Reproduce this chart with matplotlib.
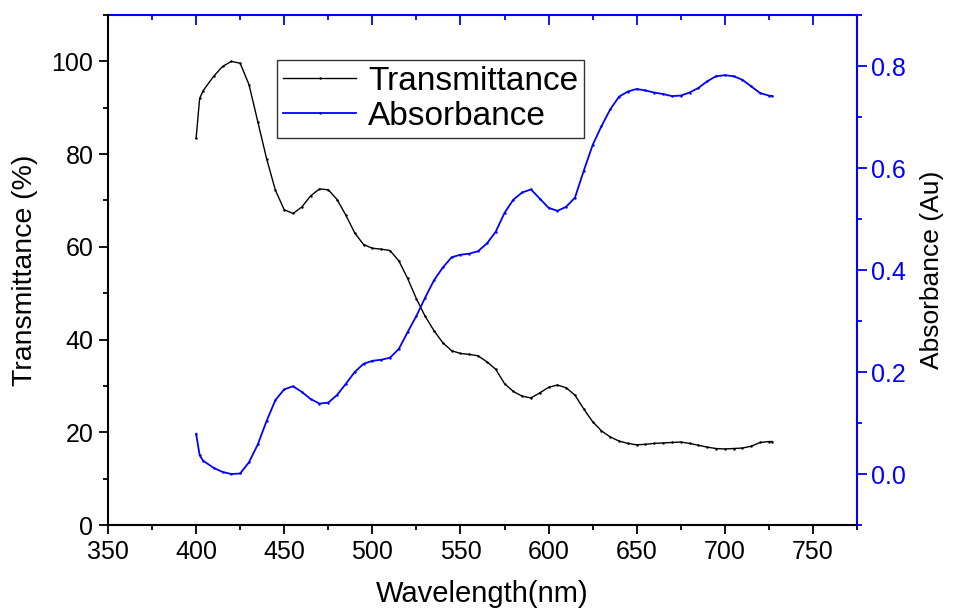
import matplotlib.pyplot as plt
from matplotlib.ticker import MultipleLocator

plt.rcParams['font.family'] = ['Liberation Sans', 'DejaVu Sans']

# wavelengths (nm)
wavelength = [400, 402, 404, 410, 415, 420, 425, 430, 435, 440, 445, 450, 455,
              460, 465, 470, 475, 480, 485, 490, 495, 500, 505, 510, 515, 520,
              525, 530, 535, 540, 545, 550, 555, 560, 565, 570, 575, 580, 585,
              590, 595, 600, 605, 610, 615, 620, 625, 630, 635, 640, 645, 650,
              655, 660, 665, 670, 675, 680, 685, 690, 695, 700, 705, 710, 715,
              720, 725, 727]

# transmittance (%)
transmittance = [83.4, 92.0, 93.7, 96.8, 98.9, 100.0, 99.6, 95.0, 87.0, 79.0,
                 72.2, 68.0, 67.2, 68.6, 71.0, 72.5, 72.3, 70.2, 66.8, 63.0,
                 60.5, 59.7, 59.5, 59.2, 57.0, 53.2, 48.8, 45.0, 41.9, 39.3,
                 37.6, 37.0, 36.8, 36.5, 35.2, 33.6, 30.5, 28.8, 27.8, 27.4,
                 28.5, 29.7, 30.2, 29.6, 28.0, 25.0, 22.3, 20.3, 19.0, 18.1,
                 17.6, 17.3, 17.4, 17.6, 17.7, 17.8, 17.9, 17.6, 17.2, 16.8,
                 16.5, 16.4, 16.5, 16.6, 17.0, 17.8, 18.0, 18.0]

# absorbance (Au)
absorbance = [0.079, 0.037, 0.026, 0.012, 0.004, 0.000, 0.001, 0.023, 0.058,
              0.104, 0.145, 0.166, 0.172, 0.161, 0.147, 0.138, 0.140, 0.155,
              0.177, 0.200, 0.216, 0.222, 0.224, 0.228, 0.245, 0.278, 0.310,
              0.346, 0.380, 0.405, 0.425, 0.430, 0.432, 0.437, 0.452, 0.475,
              0.512, 0.538, 0.552, 0.558, 0.540, 0.522, 0.516, 0.524, 0.542,
              0.595, 0.645, 0.682, 0.715, 0.740, 0.750, 0.755, 0.752, 0.748,
              0.745, 0.741, 0.742, 0.748, 0.757, 0.770, 0.780, 0.782, 0.780,
              0.773, 0.760, 0.747, 0.742, 0.741]

blue = '#0000ff'

fig = plt.figure(figsize=(9.54, 6.08), dpi=100)
ax = fig.add_axes([0.1132, 0.1365, 0.7851, 0.8388])
ax2 = ax.twinx()

l1, = ax.plot(wavelength, transmittance, color='black', lw=1.0,
              marker='.', markersize=1.5, label='Transmittance')
l2, = ax2.plot(wavelength, absorbance, color=blue, lw=1.3,
               marker='.', markersize=1.5, label='Absorbance')

ax.set_xlim(350, 775)
ax.set_ylim(0, 110)
ax2.set_ylim(-0.1, 0.9)

ax.xaxis.set_major_locator(MultipleLocator(50))
ax.xaxis.set_minor_locator(MultipleLocator(25))
ax.yaxis.set_major_locator(MultipleLocator(20))
ax.yaxis.set_minor_locator(MultipleLocator(10))
ax2.yaxis.set_major_locator(MultipleLocator(0.2))
ax2.yaxis.set_minor_locator(MultipleLocator(0.1))
ax2.yaxis.set_major_formatter(lambda v, p: f'{v:.1f}')

# spines
for a in (ax, ax2):
    for s in a.spines.values():
        s.set_linewidth(1.5)
ax.spines['top'].set_visible(False)
ax.spines['right'].set_visible(False)
ax2.spines['left'].set_visible(False)
ax2.spines['bottom'].set_visible(False)
ax2.spines['right'].set_color(blue)
ax2.spines['top'].set_visible(False)

ax.tick_params(axis='both', which='major', direction='out', length=6.5,
               width=1.3, labelsize=18, pad=4)
ax.tick_params(axis='both', which='minor', direction='out', length=3.6,
               width=1.3)
ax2.tick_params(axis='y', which='major', direction='out', length=7,
                width=1.3, colors=blue, labelsize=18, pad=3)
ax2.tick_params(axis='y', which='minor', direction='out', length=3.6,
                width=1.3, colors=blue)

# top axis: blue, inward ticks, no labels
top = ax.secondary_xaxis('top')
top.xaxis.set_major_locator(MultipleLocator(50))
top.xaxis.set_minor_locator(MultipleLocator(25))
top.spines['top'].set_color(blue)
top.spines['top'].set_linewidth(1.5)
top.tick_params(axis='x', which='major', direction='in', length=7,
                width=1.3, colors=blue, labeltop=False)
top.tick_params(axis='x', which='minor', direction='in', length=3.6,
                width=1.3, colors=blue)

ax.set_xlabel('Wavelength(nm)', fontsize=21, labelpad=12)
ax.set_ylabel('Transmittance (%)', fontsize=20.5, labelpad=10)
ax2.set_ylabel('Absorbance (Au)', fontsize=19, color='black', labelpad=10)

leg = ax.legend(handles=[l1, l2], loc='upper left',
                bbox_to_anchor=(0.2904, 0.9013),
                bbox_transform=fig.transFigure, borderaxespad=0,
                fontsize=24, fancybox=False, framealpha=1,
                edgecolor='#333333', handlelength=2.2, handletextpad=0.35,
                labelspacing=0.12, borderpad=0.18)
leg.get_frame().set_linewidth(1.0)

fig.savefig('out.png', dpi=100)
